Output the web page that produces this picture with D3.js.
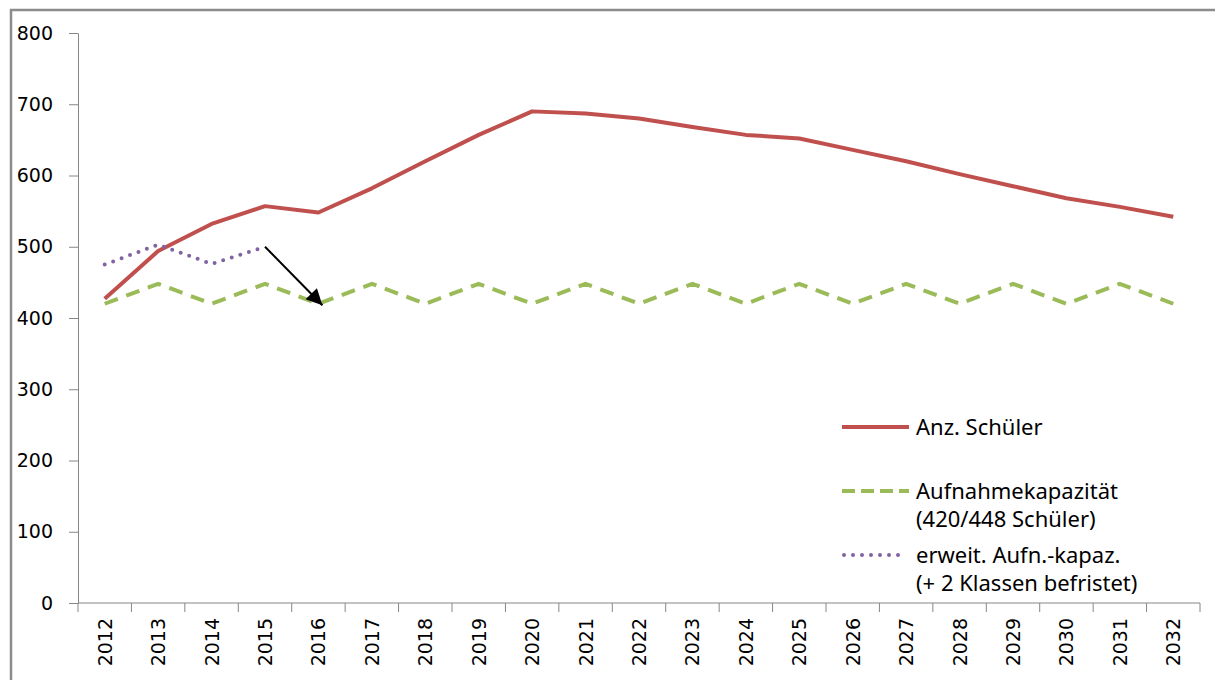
<!DOCTYPE html>
<html><head><meta charset="utf-8">
<script src="https://cdn.jsdelivr.net/npm/d3@7"></script>
<style>body{margin:0;background:#fff}svg{display:block}</style>
</head><body>
<svg id="c" width="1215" height="680"></svg>
<script>
const years = ["2012","2013","2014","2015","2016","2017","2018","2019","2020","2021","2022","2023","2024","2025","2026","2027","2028","2029","2030","2031","2032"];
const schueler = [427,494,532,557,548,582,620,657,690,687,680,668,657,652,636,620,602,585,568,556,542];
const kapazitaet = [420,448,420,448,420,448,420,448,420,448,420,448,420,448,420,448,420,448,420,448,420];
const erweitYears = ["2012","2013","2014","2015"];
const erweit = [475,503,476,500];
const yTicks = [0,100,200,300,400,500,600,700,800];
const arrowFrom = {year:"2015", value:500};
const arrowTo = {year:"2016", value:418};
const legendItems = [
  {lines:["Anz. Schüler"], color:"#C0504D", type:"solid"},
  {lines:["Aufnahmekapazität","(420/448 Schüler)"], color:"#9BBB59", type:"dash"},
  {lines:["erweit. Aufn.-kapaz.","(+ 2 Klassen befristet)"], color:"#8064A2", type:"dot"}
];

const svg = d3.select("#c");
const x = d3.scaleBand().domain(years).range([78,1200]).padding(0);
const y = d3.scaleLinear().domain([0,800]).range([603,33]);
const cx = d => x(d) + x.bandwidth()/2;

// frame
svg.append("path").attr("d","M11,680V10H1215").attr("fill","none").attr("stroke","#8c8c8c").attr("stroke-width",2.5);

// y axis
const ya = svg.append("g").attr("transform","translate(78,0)")
  .call(d3.axisLeft(y).tickValues(yTicks).tickSize(9).tickSizeOuter(0).tickPadding(16));
ya.select(".domain").attr("stroke","#868686");
ya.selectAll(".tick line").attr("stroke","#868686");
ya.selectAll(".tick text").attr("font-family","DejaVu Sans").attr("font-size",19).attr("fill","#000");

// x axis
const xg = svg.append("g");
xg.append("line").attr("x1",78).attr("x2",1200).attr("y1",y(0)).attr("y2",y(0)).attr("stroke","#868686");
const bounds = years.map(d=>x(d)).concat([x.range()[1]]);
xg.selectAll("line.t").data(bounds).join("line").attr("class","t")
  .attr("x1",d=>d).attr("x2",d=>d).attr("y1",y(0)).attr("y2",y(0)+9).attr("stroke","#868686");
xg.selectAll("text").data(years).join("text")
  .attr("transform",d=>`translate(${cx(d)+7},618) rotate(-90)`)
  .attr("text-anchor","end").attr("font-family","DejaVu Sans").attr("font-size",19).attr("fill","#000")
  .text(d=>d);

// lines
const line = d3.line().x(d=>cx(d[0])).y(d=>y(d[1]));
svg.append("path").datum(years.map((d,i)=>[d,kapazitaet[i]])).attr("d",line)
  .attr("fill","none").attr("stroke","#9BBB59").attr("stroke-width",4).attr("stroke-dasharray","14,9");
svg.append("path").datum(years.map((d,i)=>[d,schueler[i]])).attr("d",line)
  .attr("fill","none").attr("stroke","#C0504D").attr("stroke-width",4).attr("stroke-linejoin","round");
svg.append("path").datum(erweitYears.map((d,i)=>[d,erweit[i]])).attr("d",line)
  .attr("fill","none").attr("stroke","#8064A2").attr("stroke-width",4).attr("stroke-linecap","round").attr("stroke-dasharray","0,9");

// arrow
svg.append("defs").append("marker").attr("id","ah").attr("viewBox","0 0 10 10").attr("refX",10).attr("refY",5)
  .attr("markerWidth",18).attr("markerHeight",16).attr("markerUnits","userSpaceOnUse").attr("orient","auto")
  .append("path").attr("d","M0,0L10,5L0,10Z").attr("fill","#000");
svg.append("line").attr("x1",cx(arrowFrom.year)).attr("y1",y(arrowFrom.value))
  .attr("x2",cx(arrowTo.year)+4).attr("y2",y(arrowTo.value))
  .attr("stroke","#000").attr("stroke-width",2).attr("marker-end","url(#ah)");

// legend
const legY = [427,491,555];
legendItems.forEach((it,i)=>{
  const g = svg.append("g");
  const ly = legY[i];
  const l = g.append("line").attr("x1",842).attr("x2",909).attr("y1",ly).attr("y2",ly).attr("stroke",it.color).attr("stroke-width",4);
  if(it.type==="dash") l.attr("stroke-dasharray","13,6");
  if(it.type==="dot") l.attr("stroke-linecap","round").attr("stroke-dasharray","0,9").attr("x1",844).attr("x2",906);
  it.lines.forEach((t,j)=>{
    g.append("text").attr("x",916).attr("y",ly+8+j*28).attr("font-family","Noto Sans").attr("font-size",22).attr("fill","#000").text(t);
  });
});
</script>
</body></html>
